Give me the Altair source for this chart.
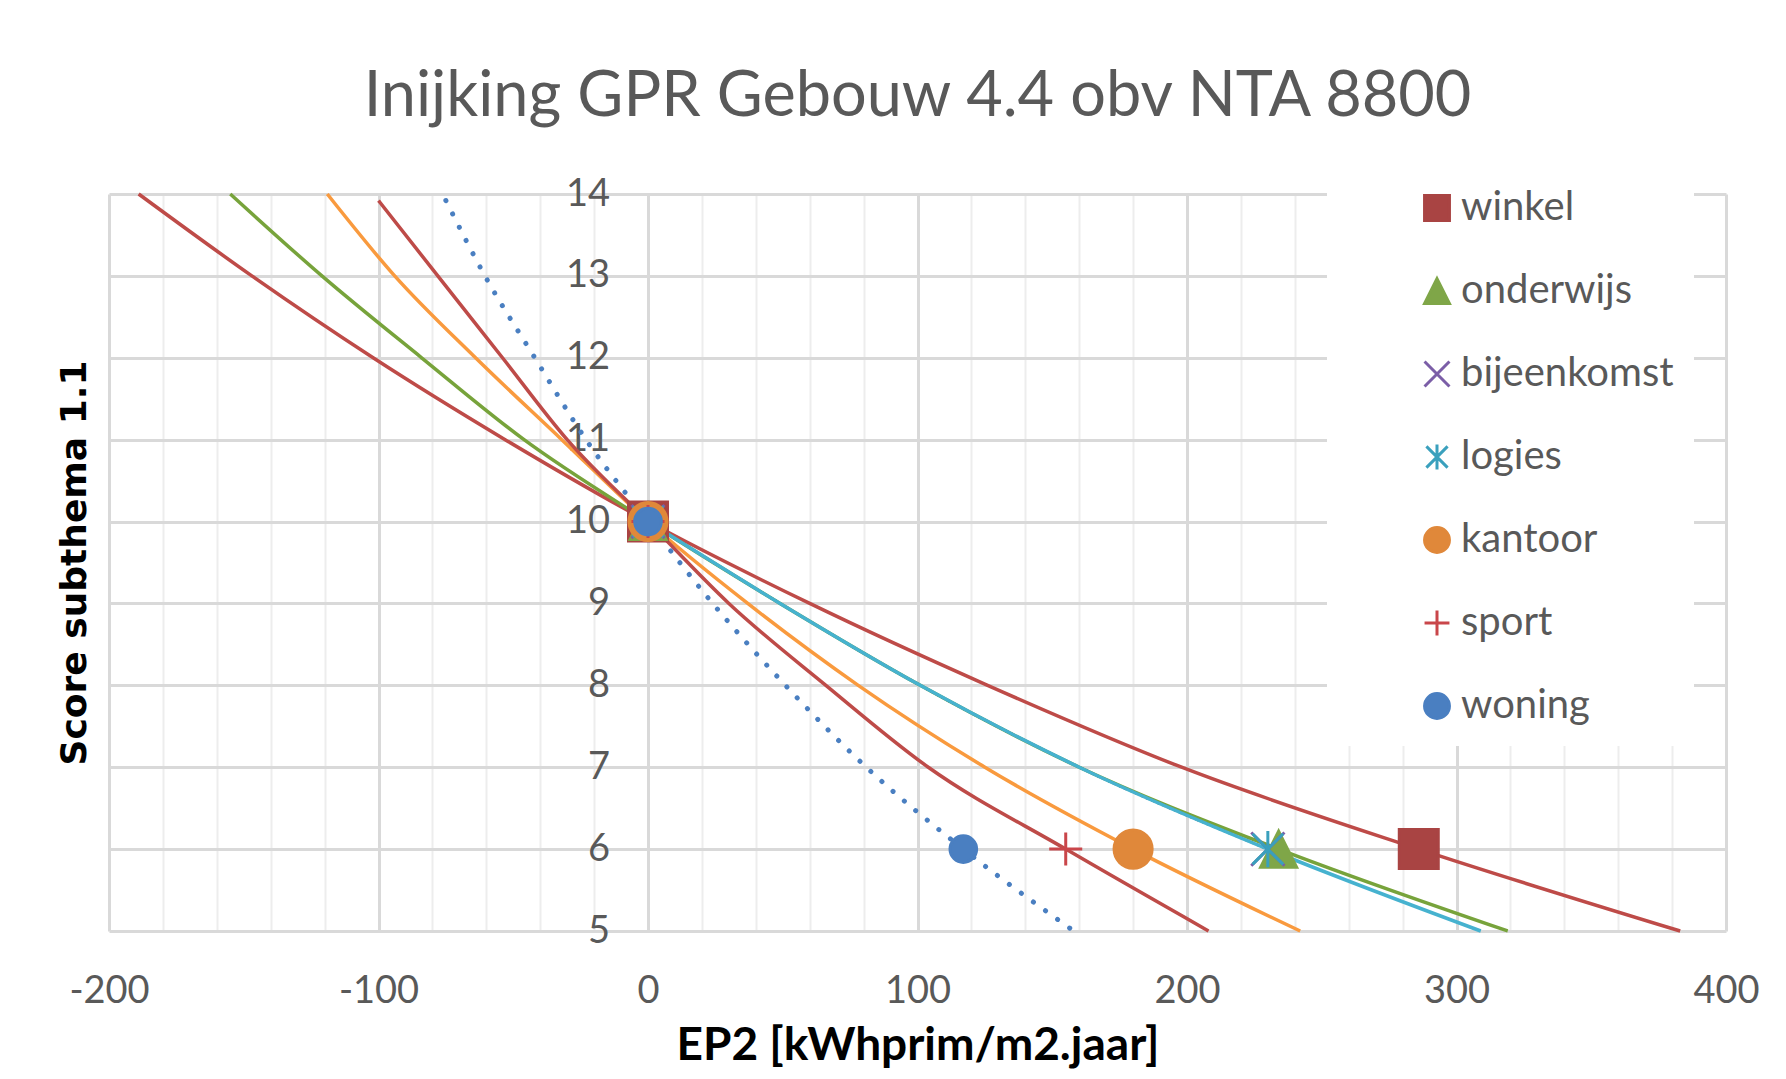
import altair as alt
import pandas as pd

# ---------------- data ----------------
series = ["winkel", "onderwijs", "bijeenkomst", "logies", "kantoor", "sport", "woning"]

winkel_x = [-189, -147, -102, -53, 0, 60, 126, 198, 286, 383]
winkel_y = [14, 13, 12, 11, 10, 9, 8, 7, 6, 5]
onderwijs_x = [-155, -121, -84, -46, 0, 49, 101, 160, 234, 319]
onderwijs_y = [14, 13, 12, 11, 10, 9, 8, 7, 6, 5]
bijeenkomst_x = [0, 49, 101, 160, 230]
bijeenkomst_y = [10, 9, 8, 7, 6]
logies_x = [0, 49, 101, 160, 230, 309]
logies_y = [10, 9, 8, 7, 6, 5]
kantoor_x = [-119, -94, -64, -32, 0, 37, 78, 125, 180, 242]
kantoor_y = [14, 13, 12, 11, 10, 9, 8, 7, 6, 5]
sport_x = [-100, -78, -54, -30, 0, 30, 66, 104, 155, 208]
sport_y = [13.92, 13, 12, 11, 10, 9, 8, 7, 6, 5]
woning_x = [-75, -60.5, -42, -23, 0, 24, 51, 81, 117, 158]
woning_y = [13.92, 13, 12, 11, 10, 9, 8, 7, 6, 5]

# marker points: every series has a marker at (0, 10) and one at score 6
marker_start_x = [0, 0, 0, 0, 0, 0, 0]
marker_start_y = [10, 10, 10, 10, 10, 10, 10]
marker_end_x = [286, 234, 230, 230, 180, 155, 117]
marker_end_y = [6, 6, 6, 6, 6, 6, 6]

x_major_ticks = [-200, -100, 0, 100, 200, 300, 400]
x_minor_ticks = [v for v in range(-200, 401, 20) if v % 100 != 0]
y_ticks = [5, 6, 7, 8, 9, 10, 11, 12, 13, 14]

# ---------------- styles ----------------
line_colors = {
    "winkel": "#BE4B48", "onderwijs": "#77A33B", "bijeenkomst": "#2E2E3A",
    "logies": "#46B2CF", "kantoor": "#F99A3E", "sport": "#BE4B48", "woning": "#4A7FC1",
}
marker_colors = ["#A94443", "#7FA648", "#7B5EA7", "#3AA0BD", "#E0883A", "#C9464A", "#4A7FC1"]
marker_shapes = [
    "square",
    "M0,-1L1,1L-1,1Z",
    "M-1,-1L1,1M-1,1L1,-1",
    "M-0.85,-0.85L0.85,0.85M-0.85,0.85L0.85,-0.85M0,-1L0,1",
    "circle",
    "M-1,0L1,0M0,-1L0,1",
    "circle",
]
marker_sizes = {"winkel": 1520, "onderwijs": 1300, "bijeenkomst": 1100, "logies": 1300,
                "kantoor": 1450, "sport": 1090, "woning": 710}

line_data = {
    "winkel": (winkel_x, winkel_y),
    "onderwijs": (onderwijs_x, onderwijs_y),
    "bijeenkomst": (bijeenkomst_x, bijeenkomst_y),
    "logies": (logies_x, logies_y),
    "kantoor": (kantoor_x, kantoor_y),
    "sport": (sport_x, sport_y),
    "woning": (woning_x, woning_y),
}

xscale = alt.Scale(domain=[-200, 400], nice=False, zero=False)
yscale = alt.Scale(domain=[5, 14], nice=False, zero=False)

FONT = "Lato"
GRAY = "#595959"
W, H = 1617, 737

layers = []
for i, s in enumerate(series):
    xs, ys = line_data[s]
    df = pd.DataFrame({"x": xs, "y": ys, "series": s})
    if i == 0:
        xaxis = alt.Axis(orient="bottom", values=x_minor_ticks, grid=True, gridColor="#EDEDED",
                         gridWidth=2, labels=False, ticks=False, domain=False, title=None)
        yaxis = alt.Axis(orient="left", values=y_ticks, grid=True, gridColor="#D9D9D9", gridWidth=3,
                         labels=False, ticks=False, domain=False,
                         title="Score subthema 1.1", titleFont="DejaVu Sans", titleFontSize=36,
                         titleFontWeight="bold", titleColor="black", titleAngle=270,
                         titleX=-35, titleY=H / 2, titleAlign="center", titleBaseline="middle")
    elif i == 1:
        xaxis = alt.Axis(orient="bottom", values=x_major_ticks, grid=True, gridColor="#D9D9D9",
                         gridWidth=3, ticks=False, domain=False, labelExpr="'' + datum.value",
                         labelFlush=False, labelFont=FONT, labelFontSize=38, labelColor=GRAY,
                         labelPadding=41,
                         title="EP2 [kWhprim/m2.jaar]", titleFont=FONT, titleFontSize=46,
                         titleFontWeight="bold", titleColor="black", titleY=114,
                         titleBaseline="middle")
        yaxis = alt.Axis(orient="left", values=y_ticks, grid=False, ticks=False, domain=False,
                         offset=-539.5, labelFont=FONT, labelFontSize=38, labelColor=GRAY,
                         labelPadding=39, labelBaseline="middle", title=None)
    else:
        xaxis = None
        yaxis = None
    mk = dict(color=line_colors[s], strokeWidth=3.5, interpolate="monotone")
    if s == "woning":
        mk = dict(color=line_colors[s], strokeWidth=5, strokeDash=[0.1, 14.8], strokeCap="round",
                  interpolate="monotone")
    if s == "bijeenkomst":
        mk = dict(color=line_colors[s], strokeWidth=2.5, strokeDash=[3, 3], interpolate="monotone")
    layers.append(
        alt.Chart(df).mark_line(**mk).encode(
            x=alt.X("x:Q", scale=xscale, axis=xaxis),
            y=alt.Y("y:Q", scale=yscale, axis=yaxis),
        )
    )

legend = alt.Legend(orient="none", legendX=1218, legendY=-26, fillColor="white", padding=20,
                    symbolOffset=70, labelOffset=4, rowPadding=43, symbolSize=620,
                    symbolStrokeWidth=3, labelFont=FONT, labelFontSize=40, labelColor=GRAY,
                    labelBaseline="middle", labelLimit=500, title=None)
fill_scale = alt.Scale(domain=series, range=marker_colors)
shape_scale = alt.Scale(domain=series, range=marker_shapes)

# markers: one layer per series (drawn in series order, woning on top)
for i, s in enumerate(series):
    mdf = pd.DataFrame({
        "series": [s, s],
        "x": [marker_start_x[i], marker_end_x[i]],
        "y": [marker_start_y[i], marker_end_y[i]],
    })
    layers.append(
        alt.Chart(mdf).mark_point(filled=True, opacity=1, strokeWidth=3, size=marker_sizes[s]).encode(
            x=alt.X("x:Q", scale=xscale, axis=None),
            y=alt.Y("y:Q", scale=yscale, axis=None),
            fill=alt.Fill("series:N", scale=fill_scale, legend=legend),
            stroke=alt.Stroke("series:N", scale=fill_scale, legend=legend),
            shape=alt.Shape("series:N", scale=shape_scale, legend=legend),
        )
    )

chart = alt.layer(*layers).resolve_axis(x="independent", y="independent").properties(
    width=W,
    height=H,
    padding={"left": 101, "top": 186, "right": 52, "bottom": 140},
    autosize=alt.AutoSizeParams(type="none"),
    background="white",
    title=alt.TitleParams("Inijking GPR Gebouw 4.4 obv NTA 8800", font=FONT, fontSize=63,
                          fontWeight="normal", color=GRAY, offset=39, anchor="middle"),
).configure_view(stroke=None)

chart.save("out.html", embed_options={"renderer": "svg", "actions": False})
